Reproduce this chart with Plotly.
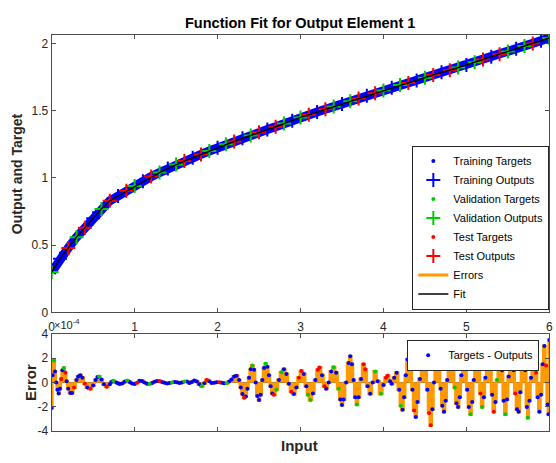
import plotly.graph_objects as go

# ---------------- data ----------------
# Top panel: input samples and network outputs / targets (targets == outputs to visible precision)
fit_x = [0.0, 0.1, 0.2, 0.3, 0.4, 0.5, 0.6, 0.7, 0.8, 0.9,
         1.0, 1.1, 1.2, 1.3, 1.4, 1.5, 1.6, 1.7, 1.8, 1.9,
         2.0, 2.1, 2.2, 2.3, 2.4, 2.5, 2.6, 2.7, 2.8, 2.9,
         3.0, 3.1, 3.2, 3.3, 3.4, 3.5, 3.6, 3.7, 3.8, 3.9,
         4.0, 4.1, 4.2, 4.3, 4.4, 4.5, 4.6, 4.7, 4.8, 4.9,
         5.0, 5.1, 5.2, 5.3, 5.4, 5.5, 5.6, 5.7, 5.8, 5.9,
         6.0]
fit_y = [0.30, 0.40, 0.48, 0.56, 0.63, 0.70, 0.77, 0.83, 0.865, 0.905,
         0.94, 0.975, 1.01, 1.04, 1.07, 1.10, 1.125, 1.15, 1.175, 1.20,
         1.225, 1.25, 1.27, 1.295, 1.315, 1.34, 1.36, 1.38, 1.405, 1.425,
         1.45, 1.47, 1.49, 1.51, 1.53, 1.55, 1.57, 1.59, 1.61, 1.63,
         1.65, 1.67, 1.69, 1.705, 1.725, 1.745, 1.765, 1.785, 1.80, 1.82,
         1.84, 1.86, 1.88, 1.90, 1.92, 1.94, 1.96, 1.98, 2.00, 2.02,
         2.04]
# b = training, g = validation, r = test
fit_set = ("gbrgrbgrbr" "gbrgbgrbrg" "bgrbgrbrgb" "grbrgbgrbr"
           "gbgrbgrbrg" "bgrbrgbgrb" "g")

# Bottom panel: errors (targets - outputs), in units of 1e-4
err_x = [0.000, 0.012, 0.028, 0.040, 0.055, 0.070, 0.085, 0.100, 0.115, 0.130,
         0.147, 0.165, 0.180, 0.200, 0.225, 0.246, 0.270, 0.300, 0.320, 0.345,
         0.370, 0.400, 0.430, 0.465, 0.500, 0.530, 0.555, 0.572, 0.600, 0.630,
         0.663, 0.700, 0.720, 0.742, 0.780, 0.80, 0.82, 0.85, 0.88, 0.91,
         0.94, 0.97, 1.00, 1.03, 1.06, 1.09, 1.12, 1.15, 1.18, 1.21,
         1.24, 1.27, 1.30, 1.33, 1.36, 1.39, 1.42, 1.45, 1.48, 1.51,
         1.54, 1.57, 1.60, 1.63, 1.66, 1.69, 1.72, 1.75, 1.78, 1.81,
         1.84, 1.87, 1.90, 1.93, 1.96, 1.99, 2.02, 2.05, 2.08, 2.11,
         2.14, 2.17, 2.20, 2.23, 2.26, 2.28, 2.30, 2.32, 2.34, 2.36,
         2.38, 2.40, 2.42, 2.44, 2.46, 2.48, 2.50, 2.52, 2.54, 2.56,
         2.58, 2.60, 2.62, 2.64, 2.66, 2.68, 2.71, 2.74, 2.77, 2.80,
         2.83, 2.86, 2.89, 2.92, 2.95, 2.98, 3.01, 3.04, 3.07, 3.09,
         3.12, 3.15, 3.18, 3.21, 3.23, 3.26, 3.29, 3.31, 3.34, 3.37,
         3.40, 3.43, 3.46, 3.48, 3.50, 3.52, 3.55, 3.58, 3.60, 3.62,
         3.64, 3.66, 3.68, 3.70, 3.73, 3.76, 3.78, 3.81, 3.84, 3.87,
         3.90, 3.93, 3.97, 4.00, 4.03, 4.05, 4.08, 4.10, 4.13, 4.16,
         4.19, 4.21, 4.23, 4.25, 4.27, 4.29, 4.31, 4.33, 4.35, 4.37,
         4.39, 4.41, 4.44, 4.47, 4.49, 4.51, 4.53, 4.55, 4.57, 4.59,
         4.61, 4.63, 4.65, 4.67, 4.69, 4.71, 4.73, 4.75, 4.77, 4.79,
         4.82, 4.84, 4.86, 4.88, 4.90, 4.92, 4.94, 4.97, 4.99, 5.01,
         5.03, 5.05, 5.07, 5.09, 5.11, 5.13, 5.15, 5.17, 5.19, 5.21,
         5.23, 5.25, 5.27, 5.29, 5.31, 5.33, 5.35, 5.37, 5.39, 5.41,
         5.43, 5.45, 5.47, 5.49, 5.51, 5.53, 5.55, 5.57, 5.59, 5.61,
         5.63, 5.65, 5.67, 5.69, 5.71, 5.73, 5.74, 5.76, 5.78, 5.80,
         5.82, 5.84, 5.86, 5.88, 5.90, 5.92, 5.94, 5.96, 5.98, 5.99,
         6.00]
err_val = [-2.10, 0.60, 1.80, 0.90, 0.00, -0.60, -0.90, -0.50, 0.30, 1.00,
           1.20, 0.80, 0.10, -0.50, -0.85, -0.85, -0.40, 0.20, 0.50, 0.60,
           0.40, -0.10, -0.40, -0.50, -0.25, 0.20, 0.45, 0.50, 0.25, -0.15,
           -0.35, -0.15, 0.05, 0.15, 0.00, -0.05, -0.13, -0.08, 0.06, 0.16,
           0.05, -0.08, -0.13, -0.02, 0.14, 0.12, 0.00, -0.10, -0.12, -0.03,
           0.06, 0.12, 0.12, 0.05, -0.02, -0.07, -0.04, 0.00, 0.04, 0.03,
           -0.04, 0.00, 0.08, 0.08, -0.04, 0.04, 0.16, 0.08, -0.15, -0.30,
           -0.05, 0.21, 0.10, -0.04, -0.02, 0.02, 0.02, -0.02, -0.05, -0.06,
           0.08, 0.25, 0.50, 0.56, 0.20, -0.40, -0.95, -1.25, -1.15, -0.50,
           0.40, 1.10, 1.40, 1.05, 0.00, -1.10, -1.44, -1.00, 0.20, 1.20,
           1.55, 1.30, 0.60, -0.30, -0.90, -1.00, -0.60, 0.20, 0.85, 1.10,
           0.70, -0.10, -0.75, -0.95, -0.40, 0.40, 0.95, 0.70, -0.30, -1.00,
           -1.44, -0.90, 0.20, 1.05, 1.23, 0.60, -0.30, -0.50, 0.00, 0.90,
           1.25, 0.80, -0.50, -1.40, -1.84, -1.40, 0.00, 1.60, 2.16, 1.50,
           0.20, -1.20, -1.80, -1.20, 0.30, 1.50, 1.10, -0.30, -0.93, 0.00,
           0.90, 0.10, -0.93, -0.20, 0.40, 0.56, 0.10, -0.10, 0.40, 0.80,
           -0.60, -1.90, -2.24, -1.20, 0.60, 1.90, 2.43, 1.50, -0.60, -2.30,
           -2.83, -1.60, 0.30, 1.90, 2.50, 1.60, -0.60, -2.50, -3.50, -2.20,
           0.00, 1.80, 2.60, 1.50, -0.50, -1.90, -2.40, -1.50, 0.20, 1.50,
           2.30, 1.40, -0.40, -1.70, -2.00, -1.20, 0.60, 2.00, 1.20, -0.60,
           -2.00, -2.60, -1.60, 0.20, 1.50, 2.40, 1.40, -0.90, -2.00, -1.20,
           0.40, 1.60, 2.40, 1.20, -1.00, -2.40, -1.60, 0.20, 2.00, 2.30,
           1.00, -1.50, -2.60, -1.40, 0.50, 1.80, 2.30, 1.00, -0.90, -2.20,
           -2.40, -0.80, 1.40, 2.30, 1.00, -2.00, -2.90, -1.50, 0.40, 1.80,
           2.40, 0.80, -1.20, -2.40, -1.00, 1.50, 3.00, 1.40, -1.80, -2.60,
           3.50]
err_set = ("bbgbbbbbrb" "grbbbbrbbb" "brbrbbbgbb" "rbbgbbbbbg" "bbbrbbbbgb"
           "bbrbbbbgbb" "bbgbbbbbbg" "brbbbbrbbg" "bbbbbbbrbb" "bbgbbbbbbb"
           "gbbbbrgbgb" "bbrbbrrbbg" "gbbrrbrbbb" "gbgbbbbbbb" "bbgbbrrbbb"
           "gbgbrrbbbb" "bgbbbbbbbr" "bbbbbrbrrb" "bbbbbbbbbr" "bbgbbbbbrb"
           "bgbbbbbrgb" "brbbbrbgbb" "bbgbbbbbrb" "bbbgbbgbbb" "brbbbbbrbb"
           "b")

x_ticks = [0, 1, 2, 3, 4, 5, 6]
y_ticks = [0, 0.5, 1, 1.5, 2]
y_tick_text = ["0", "0.5", "1", "1.5", "2"]
e_ticks = [-4, -2, 0, 2, 4]
e_tick_text = ["-4", "-2", "0", "2", "4"]

assert len(fit_x) == len(fit_y) == len(fit_set)
assert len(err_x) == len(err_val) == len(err_set)

# ---------------- styling ----------------
W, H = 556, 463
FONT = "Liberation Sans, Arial, Helvetica, sans-serif"
BLUE, GREEN, RED, ORANGE = "#0000ff", "#00cc00", "#ff0000", "#ff9900"
AX = "#4d4d4d"
TXT = "#262626"


def pick(xs, ys, sets, key):
    sx = [a for a, s in zip(xs, sets) if s == key]
    sy = [b for b, s in zip(ys, sets) if s == key]
    return sx, sy


fig = go.Figure()

# ---- top panel ----
# dense band of training samples (drawn from the data, no legend entry)
fig.add_trace(go.Scatter(x=fit_x, y=fit_y, mode="lines", showlegend=False,
                         line=dict(color=BLUE, width=9), xaxis="x", yaxis="y",
                         hoverinfo="skip"))

names = {"b": ("Training Targets", "Training Outputs", BLUE),
         "g": ("Validation Targets", "Validation Outputs", GREEN),
         "r": ("Test Targets", "Test Outputs", RED)}
for key in ["b", "g", "r"]:
    tn, on, col = names[key]
    sx, sy = pick(fit_x, fit_y, fit_set, key)
    fig.add_trace(go.Scatter(x=sx, y=sy, mode="markers", name=tn,
                             marker=dict(symbol="circle", size=4, color=col),
                             xaxis="x", yaxis="y", legend="legend"))
    fig.add_trace(go.Scatter(x=sx, y=sy, mode="markers", name=on,
                             marker=dict(symbol="cross-thin", size=10, color=col,
                                         line=dict(color=col, width=2)),
                             xaxis="x", yaxis="y", legend="legend"))

# Errors in the top panel: segments from target to output (zero length at this scale)
ex, ey = [], []
for a, b in zip(fit_x, fit_y):
    ex += [a, a, None]
    ey += [b, b, None]
fig.add_trace(go.Scatter(x=ex, y=ey, mode="lines", name="Errors",
                         line=dict(color=ORANGE, width=3), xaxis="x", yaxis="y",
                         legend="legend", hoverinfo="skip"))
fig.add_trace(go.Scatter(x=fit_x, y=fit_y, mode="lines", name="Fit",
                         line=dict(color="black", width=1.5), xaxis="x", yaxis="y",
                         legend="legend", hoverinfo="skip"))

# ---- bottom panel ----
# error stems from zero to each error value (blocky fill, one step per sample)
fig.add_trace(go.Scatter(x=err_x, y=err_val, mode="lines", fill="tozeroy",
                         fillcolor=ORANGE,
                         line=dict(color=ORANGE, width=3, shape="hvh"),
                         showlegend=False, xaxis="x2", yaxis="y2", hoverinfo="skip"))
for key, col in [("b", BLUE), ("g", GREEN), ("r", RED)]:
    sx, sy = pick(err_x, err_val, err_set, key)
    fig.add_trace(go.Scatter(x=sx, y=sy, mode="markers",
                             name="Targets - Outputs",
                             showlegend=(key == "b"),
                             marker=dict(symbol="circle", size=4, color=col),
                             xaxis="x2", yaxis="y2", legend="legend2"))

fig.add_hline(y=0, line=dict(color="#8a6a40", width=1), xref="x2", yref="y2",
              layer="below")

xdom = [49.3 / W, 553.3 / W]
axis_common = dict(showgrid=False, zeroline=False, showline=True, linecolor=AX,
                   linewidth=1, mirror="ticks", ticks="inside", ticklen=4,
                   tickcolor=AX, tickwidth=1, ticklabeloverflow="allow",
                   tickfont=dict(family=FONT, size=12, color=TXT))

fig.update_layout(
    width=W, height=H,
    margin=dict(l=0, r=0, t=0, b=0, pad=0),
    paper_bgcolor="white", plot_bgcolor="white",
    font=dict(family=FONT, color=TXT),
    xaxis=dict(domain=xdom, range=[0, 6], tickvals=x_ticks, anchor="y",
               ticklabelstandoff=3, **axis_common),
    yaxis=dict(domain=[1 - 315 / H, 1 - 28.5 / H], range=[0, 2.065],
               tickvals=y_ticks, ticktext=y_tick_text, anchor="x", **axis_common),
    xaxis2=dict(domain=xdom, range=[0, 6], tickvals=x_ticks, anchor="y2",
                showticklabels=False, **axis_common),
    yaxis2=dict(domain=[1 - 437.5 / H, 1 - 337 / H], range=[-4, 4],
                tickvals=e_ticks, ticktext=e_tick_text, anchor="x2", **axis_common),
    legend=dict(x=553.3 / W, xanchor="right", y=1 - 312 / H, yanchor="bottom",
                bgcolor="white", bordercolor="#262626", borderwidth=1,
                font=dict(family=FONT, size=11, color="black"), tracegroupgap=0),
    legend2=dict(x=543 / W, xanchor="right", y=1 - 343 / H, yanchor="top",
                 bgcolor="white", bordercolor="#262626", borderwidth=1,
                 font=dict(family=FONT, size=11, color="black")),
    showlegend=True,
)

ann = [
    dict(text="<b>Function Fit for Output Element 1</b>", x=301 / W, y=1 - 17 / H,
         font=dict(size=14.5, color="black")),
    dict(text="<b>Output and Target</b>", x=15 / W, y=1 - 171.5 / H,
         textangle=-90, font=dict(size=14, color=TXT)),
    dict(text="<b>Error</b>", x=28 / W, y=1 - 387 / H, textangle=-90,
         font=dict(size=15, color=TXT)),
    dict(text="<b>Input</b>", x=300 / W, y=1 - 452 / H,
         font=dict(size=15, color=TXT)),
    dict(text="\u00d710<sup>-4</sup>", x=50 / W, y=1 - 336 / H, xanchor="left",
         yanchor="bottom", font=dict(size=11, color=TXT)),
]
for a in ann:
    a.setdefault("xanchor", "center")
    a.setdefault("yanchor", "middle")
    fig.add_annotation(xref="paper", yref="paper", showarrow=False,
                       font_family=FONT, **a)

# remove the default page margin so the 556x463 figure fills the window exactly
fig.write_html("out.html",
               config={"displayModeBar": False},
               post_script="document.body.style.margin='0';"
                           "document.body.style.overflow='hidden';")
